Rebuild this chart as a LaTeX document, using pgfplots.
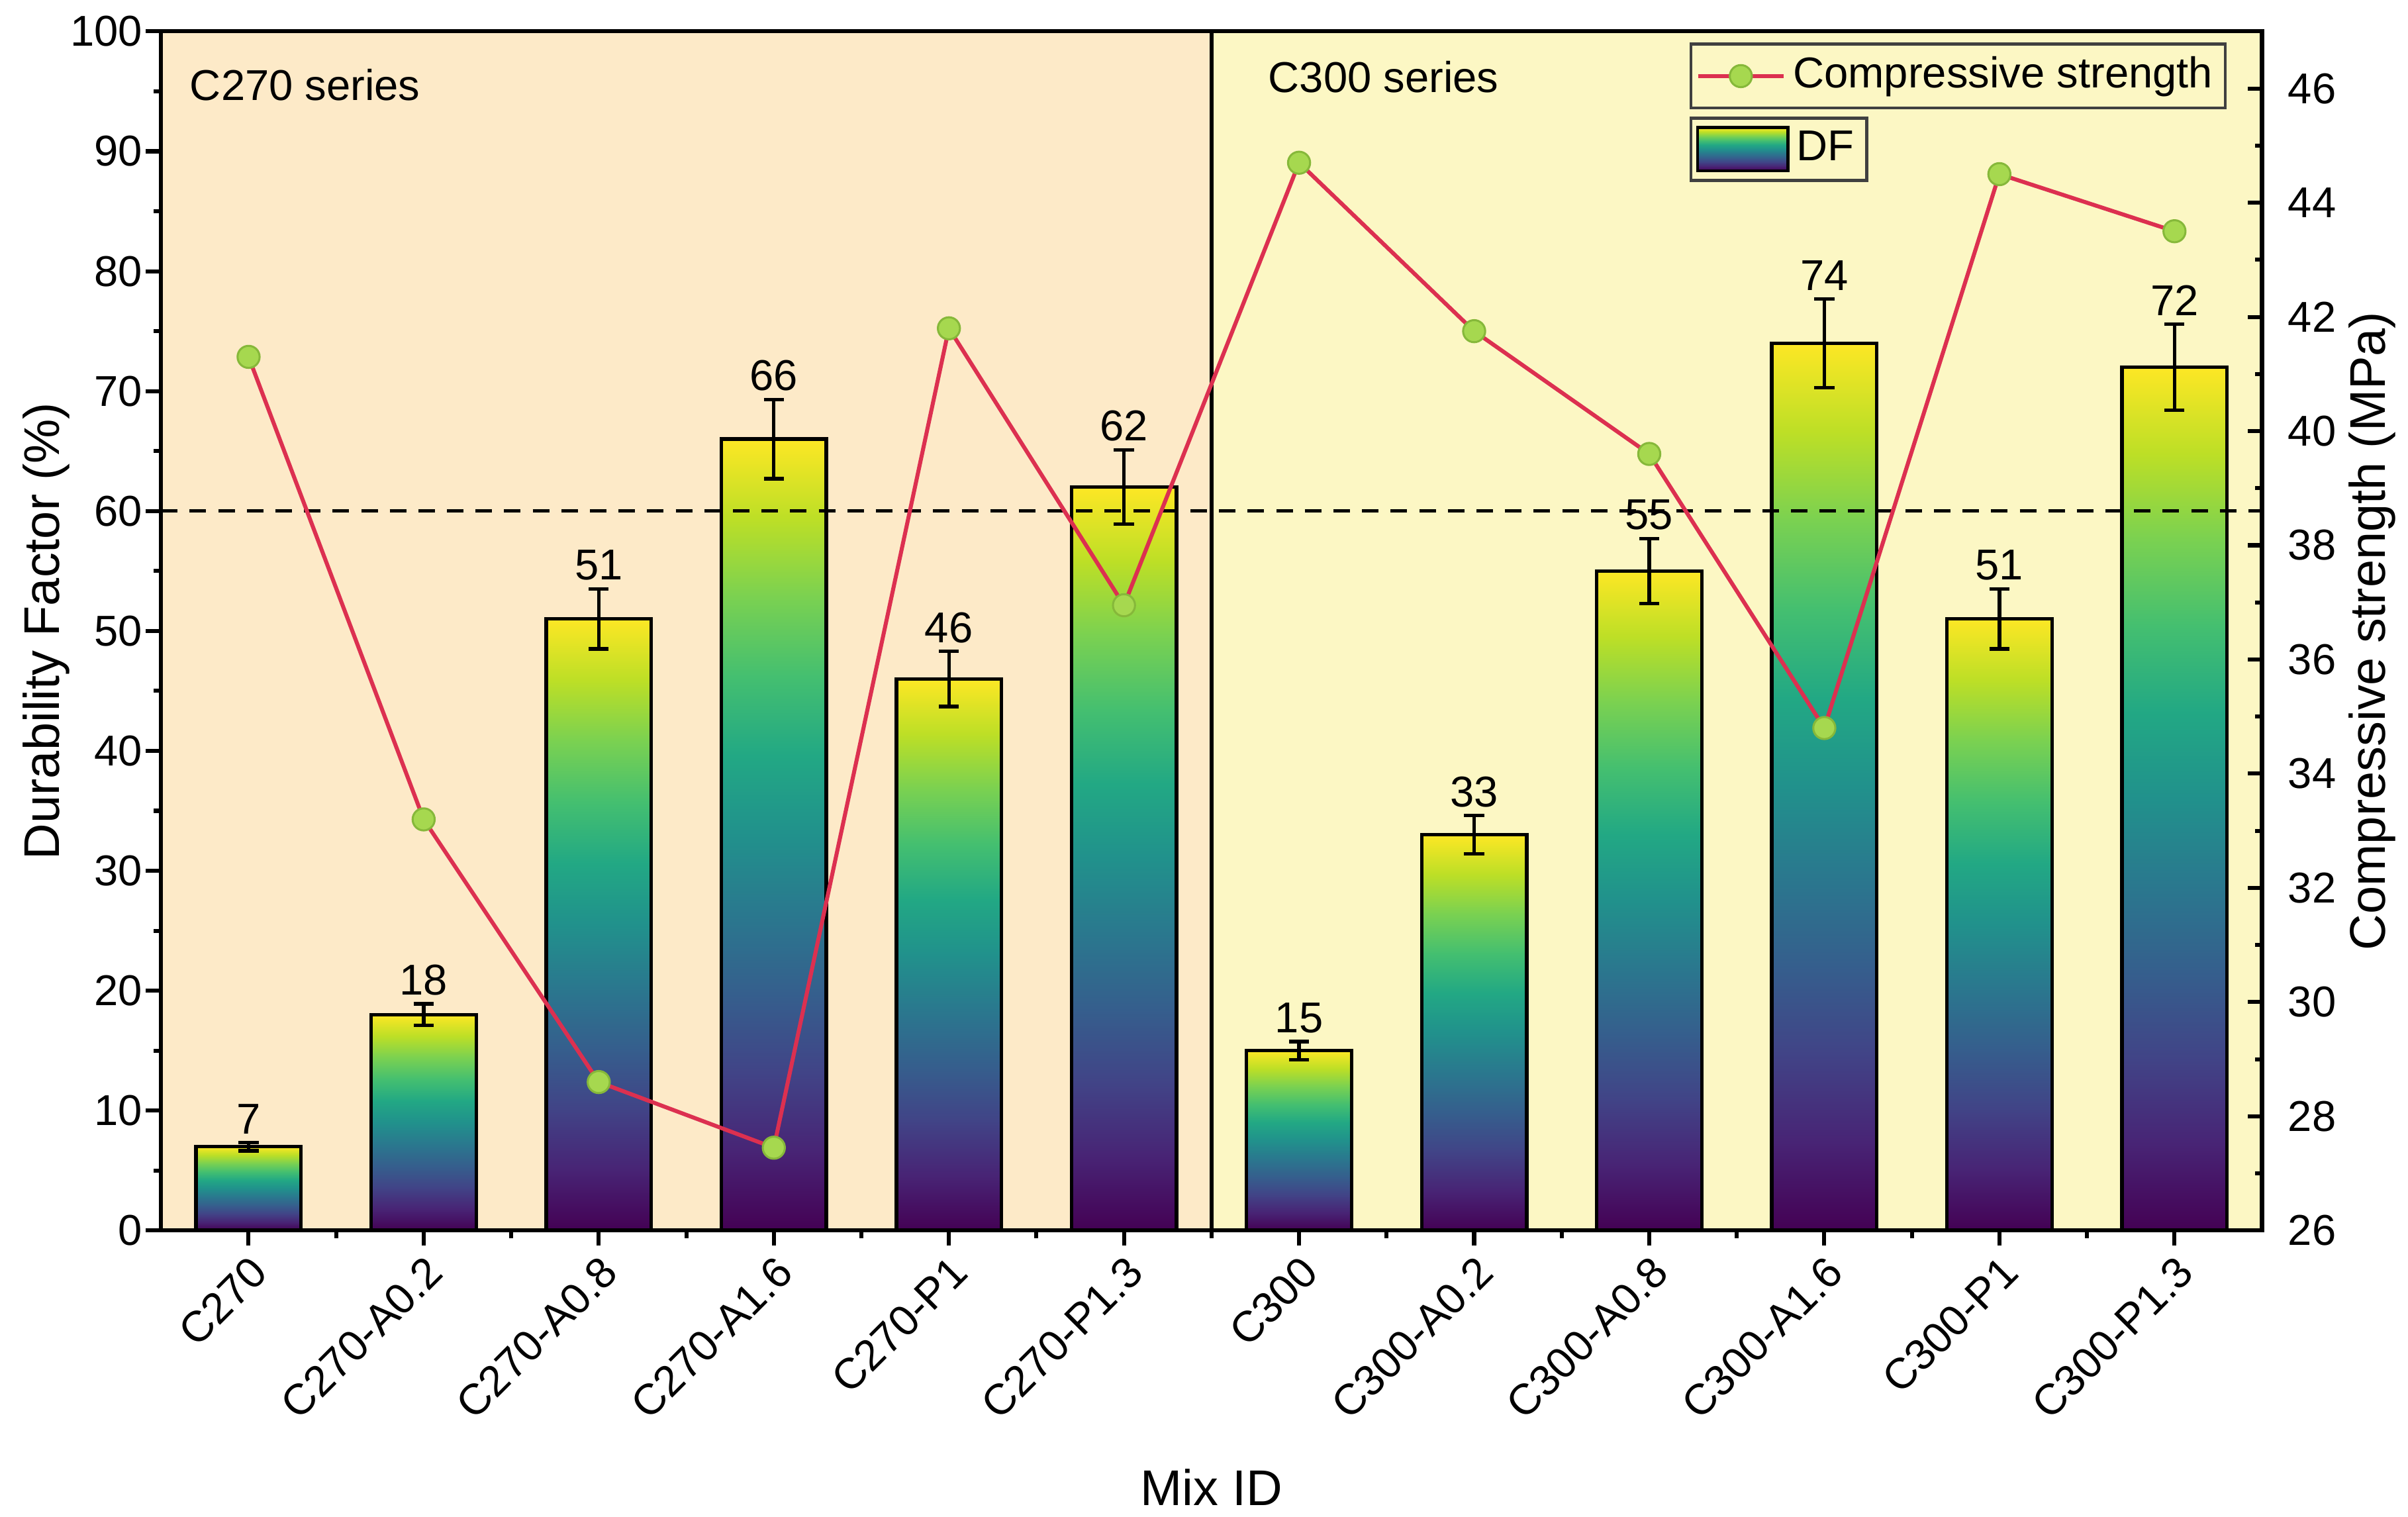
\documentclass[border=0pt]{standalone}
\usepackage{pgfplots}
\pgfplotsset{compat=1.18}
\usepackage{pgfplotstable}
\usepackage{fontspec}
\setmainfont{Liberation Sans}
\definecolor{v0}{HTML}{440154}
\definecolor{v1}{HTML}{482475}
\definecolor{v2}{HTML}{414487}
\definecolor{v3}{HTML}{355F8D}
\definecolor{v4}{HTML}{2A788E}
\definecolor{v5}{HTML}{21918C}
\definecolor{v6}{HTML}{22A884}
\definecolor{v7}{HTML}{44BF70}
\definecolor{v8}{HTML}{7AD151}
\definecolor{v9}{HTML}{BDDF26}
\definecolor{v10}{HTML}{FDE725}
\definecolor{bgL}{HTML}{FDEAC8}
\definecolor{bgR}{HTML}{FCF7C4}
\definecolor{lineRed}{HTML}{DC3050}
\definecolor{markG}{HTML}{A6D84F}
\definecolor{markGd}{HTML}{86B83A}
\pgfdeclareverticalshading{viridis}{100bp}{color(0bp)=(v0); color(25bp)=(v0); color(30bp)=(v1); color(35bp)=(v2); color(40bp)=(v3); color(45bp)=(v4); color(50bp)=(v5); color(55bp)=(v6); color(60bp)=(v7); color(65bp)=(v8); color(70bp)=(v9); color(75bp)=(v10); color(100bp)=(v10)}
\newcommand\tfont{\fontsize{8.6}{10}\selectfont}
\newcommand\lfont{\fontsize{10.5}{12}\selectfont}

\pgfplotstableread{
x y err
0 7 0.35
1 18 0.9
2 51 2.5
3 66 3.3
4 46 2.3
5 62 3.1
6 15 0.75
7 33 1.6
8 55 2.7
9 74 3.7
10 51 2.5
11 72 3.6
}\dfdata

\pgfplotstableread{
x y
0 41.3
1 33.2
2 28.6
3 27.45
4 41.8
5 36.95
6 44.7
7 41.75
8 39.6
9 34.8
10 44.5
11 43.5
}\csdata

\pgfplotsset{dfbar/.style={ybar, bar width=0.6, bar shift=0pt, draw=black, line width=0.7pt, shading=viridis, shade, forget plot}}

\begin{document}
\begin{tikzpicture}
\useasboundingbox (-32.1pt,-57.1pt) rectangle (447.9pt,245.26pt);
\begin{axis}[
  at={(0,0)}, anchor=south west,
  scale only axis, width=418.8pt, height=239pt,
  xmin=-0.5, xmax=11.5, ymin=0, ymax=100,
  axis on top,
  axis line style={line width=0.8pt},
  xtick={0,...,11},
  xticklabels={C270,C270-A0.2,C270-A0.8,C270-A1.6,C270-P1,C270-P1.3,C300,C300-A0.2,C300-A0.8,C300-A1.6,C300-P1,C300-P1.3},
  minor xtick={0.5,1.5,...,10.5},
  ytick={0,10,...,100}, minor y tick num=1,
  xtick pos=left, ytick pos=left,
  tick align=outside,
  major tick length=3pt, minor tick length=1.5pt,
  tick style={line width=0.8pt, black},
  /pgf/number format/assume math mode=true,
  tick label style={font=\tfont},
  xticklabel style={rotate=45, anchor=north east, inner sep=1pt},
  yticklabel style={inner sep=0.5pt},
  xlabel={Mix ID}, ylabel={Durability Factor (\%)},
  label style={font=\lfont},
  every axis y label/.style={at={(axis description cs:-0.0547,0.5)}, rotate=90, anchor=center},
  every axis x label/.style={at={(axis description cs:0.5,-0.214)}, anchor=center},
  legend style={at={(0.7275,0.929)}, anchor=north west, draw=black!75, line width=0.6pt, fill=bgR, font=\tfont, inner sep=1pt, nodes={inner sep=1.5pt}},
  legend cell align=left,
]
\fill[bgL] (axis cs:-0.5,0) rectangle (axis cs:5.5,100);
\fill[bgR] (axis cs:5.5,0) rectangle (axis cs:11.5,100);
\addlegendimage{legend image code/.code={\shade[shading=viridis, draw=black, line width=0.6pt] (0pt,-4.3pt) rectangle (18pt,4.3pt);}}
\addlegendentry{DF}
\addplot[dfbar] coordinates {(0,7)};
\addplot[dfbar] coordinates {(1,18)};
\addplot[dfbar] coordinates {(2,51)};
\addplot[dfbar] coordinates {(3,66)};
\addplot[dfbar] coordinates {(4,46)};
\addplot[dfbar] coordinates {(5,62)};
\addplot[dfbar] coordinates {(6,15)};
\addplot[dfbar] coordinates {(7,33)};
\addplot[dfbar] coordinates {(8,55)};
\addplot[dfbar] coordinates {(9,74)};
\addplot[dfbar] coordinates {(10,51)};
\addplot[dfbar] coordinates {(11,72)};
\addplot[draw=none, mark=none, forget plot,
  error bars/.cd, y dir=both, y explicit,
  error bar style={draw=black, line width=0.7pt},
  error mark options={rotate=90, mark size=2pt, line width=0.7pt, draw=black}]
  table[x=x, y=y, y error=err] {\dfdata};
\addplot[draw=none, mark=none, forget plot, nodes near coords, point meta=explicit symbolic,
  every node near coord/.append style={font=\tfont, anchor=south, inner sep=1.5pt, text=black}]
  table[x=x, y expr=\thisrow{y}+\thisrow{err}, meta=y] {\dfdata};
\addplot[black, dash pattern=on 3.3pt off 2.4pt, line width=0.7pt, forget plot] coordinates {(-0.5,60) (11.5,60)};
\addplot[black, line width=0.8pt, forget plot] coordinates {(5.5,0) (5.5,100)};
\node[anchor=west, font=\tfont, inner sep=0pt] at (rel axis cs:0.0133,0.9556) {C270 series};
\node[anchor=west, font=\tfont, inner sep=0pt] at (rel axis cs:0.5266,0.962) {C300 series};
\end{axis}
\begin{axis}[
  at={(0,0)}, anchor=south west,
  scale only axis, width=418.8pt, height=239pt,
  xmin=-0.5, xmax=11.5, ymin=26, ymax=47,
  axis x line=none, axis y line*=right,
  axis line style={line width=0.8pt},
  ytick={26,28,...,46}, minor y tick num=1,
  tick align=inside,
  major tick length=2.8pt, minor tick length=1.4pt,
  tick style={line width=0.8pt, black},
  /pgf/number format/assume math mode=true,
  tick label style={font=\tfont},
  yticklabel style={inner sep=1pt, xshift=4pt},
  ylabel={Compressive strength (MPa)},
  label style={font=\lfont},
  every axis y label/.style={at={(axis description cs:1.0525,0.5)}, rotate=90, anchor=center},
  legend style={at={(0.7275,0.9906)}, anchor=north west, draw=black!75, line width=0.6pt, fill=bgR, font=\tfont, inner sep=1pt, nodes={inner sep=1.5pt}},
  legend cell align=left,
]
\addplot[color=lineRed, line width=0.8pt, mark=*, mark size=2.2pt, mark options={fill=markG, draw=markGd, line width=0.4pt}]
  table[x=x, y=y] {\csdata};
\addlegendentry{Compressive strength}
\end{axis}
\end{tikzpicture}
\end{document}
